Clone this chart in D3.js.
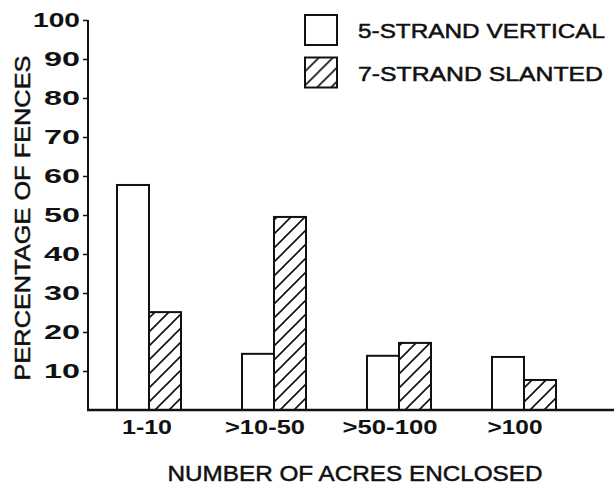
<!DOCTYPE html>
<html>
<head>
<meta charset="utf-8">
<script src="https://cdn.jsdelivr.net/npm/d3@7"></script>
<style>
  body { margin: 0; background: #fff; }
  text { font-family: "Liberation Sans", Arial, sans-serif; fill: #111; }
</style>
</head>
<body>
<svg id="chart" width="614" height="488"></svg>
<script>
// acres enclosed vs fence type
var categories = ["1-10", ">10-50", ">50-100", ">100"];
var seriesNames = ["5-STRAND VERTICAL", "7-STRAND SLANTED"];
var vertical = [57.7, 14.4, 13.9, 13.6];
var slanted = [25.1, 49.5, 17.2, 7.7];
var yTicks = [10, 20, 30, 40, 50, 60, 70, 80, 90, 100];

var svg = d3.select("#chart");
var W = 614;

// hatch pattern for the slanted series
var defs = svg.append("defs");
defs.append("pattern")
  .attr("id", "hatch")
  .attr("patternUnits", "userSpaceOnUse")
  .attr("width", 14).attr("height", 14)
  .append("path")
  .attr("d", "M-2,16 L16,-2 M-2,2 L2,-2 M12,16 L16,12")
  .attr("stroke", "#111").attr("stroke-width", 1.6);

var y = d3.scaleLinear().domain([0, 100]).range([410, 20]);
var x = d3.scaleBand().domain(categories)
  .range([86.5, 586.5]).paddingInner(0.488).paddingOuter(0.244);
var xs = d3.scaleBand().domain([0, 1]).range([0, x.bandwidth()]);

var rows = categories.map(function(c, i) {
  return { cat: c, vals: [vertical[i], slanted[i]] };
});

var groups = svg.append("g").selectAll("g").data(rows).enter().append("g")
  .attr("transform", function(d) { return "translate(" + x(d.cat) + ",0)"; });

groups.selectAll("rect").data(function(d) { return d.vals; }).enter().append("rect")
  .attr("x", function(d, i) { return xs(i); })
  .attr("y", function(d) { return y(d); })
  .attr("width", xs.bandwidth())
  .attr("height", function(d) { return y(0) - y(d); })
  .attr("fill", function(d, i) { return i === 0 ? "#fff" : "url(#hatch)"; })
  .attr("stroke", "#111").attr("stroke-width", 2);

// y axis
var yAxis = svg.append("g")
  .attr("transform", "translate(88,0)")
  .call(d3.axisLeft(y).tickValues(yTicks).tickSize(5).tickSizeOuter(0).tickPadding(3));
yAxis.select(".domain").attr("stroke", "#111").attr("stroke-width", 2)
  .attr("d", "M0," + y(0) + "V" + y(100));
yAxis.selectAll(".tick line").attr("stroke", "#111").attr("stroke-width", 1.5);
yAxis.selectAll(".tick text")
  .style("font-size", "20px").style("font-weight", "bold").attr("fill", "#111")
  .attr("lengthAdjust", "spacingAndGlyphs")
  .attr("textLength", function(d) { return d === 100 ? 47 : 36; });

// baseline
svg.append("line")
  .attr("x1", 87).attr("x2", W)
  .attr("y1", y(0)).attr("y2", y(0))
  .attr("stroke", "#111").attr("stroke-width", 2.5);

// x axis labels
var labelWidth = { "1-10": 50, ">10-50": 80, ">50-100": 95, ">100": 55 };
var xAxis = svg.append("g")
  .attr("transform", "translate(0," + y(0) + ")")
  .call(d3.axisBottom(x).tickSize(0).tickPadding(10));
xAxis.select(".domain").remove();
xAxis.selectAll(".tick text")
  .style("font-size", "20px").style("font-weight", "bold").attr("fill", "#111")
  .attr("lengthAdjust", "spacingAndGlyphs")
  .attr("textLength", function(d) { return labelWidth[d]; })
  .attr("dx", function(d) { return d.charAt(0) === ">" ? -9 : -2; });

// axis titles
svg.append("text")
  .attr("x", 355).attr("y", 481)
  .attr("text-anchor", "middle")
  .style("font-size", "22px")
  .attr("stroke", "#111").attr("stroke-width", 0.5)
  .attr("lengthAdjust", "spacingAndGlyphs")
  .attr("textLength", 375)
  .text("NUMBER OF ACRES ENCLOSED");

svg.append("text")
  .attr("transform", "translate(30,218) rotate(-90)")
  .attr("text-anchor", "middle")
  .style("font-size", "22px")
  .attr("stroke", "#111").attr("stroke-width", 0.5)
  .attr("lengthAdjust", "spacingAndGlyphs")
  .attr("textLength", 325)
  .text("PERCENTAGE OF FENCES");

// legend
var legend = svg.append("g").selectAll("g").data(seriesNames).enter().append("g")
  .attr("transform", function(d, i) { return "translate(305," + (15 + i * 42.5) + ")"; });
legend.append("rect")
  .attr("width", 32).attr("height", 30)
  .attr("fill", function(d, i) { return i === 0 ? "#fff" : "url(#hatch)"; })
  .attr("stroke", "#111").attr("stroke-width", 2);
legend.append("text")
  .attr("x", 53).attr("y", 23)
  .style("font-size", "20px")
  .attr("stroke", "#111").attr("stroke-width", 0.5)
  .attr("lengthAdjust", "spacingAndGlyphs")
  .attr("textLength", function(d, i) { return i === 0 ? 247 : 245; })
  .text(function(d) { return d; });
</script>
</body>
</html>
